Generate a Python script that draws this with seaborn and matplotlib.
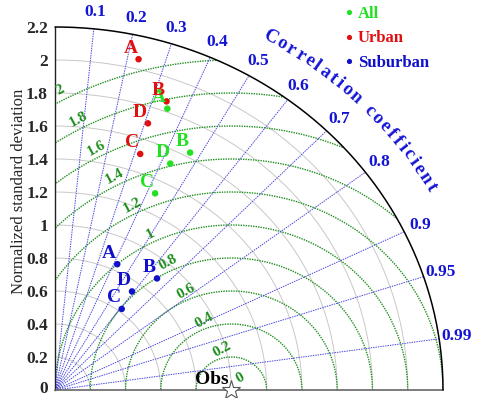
import numpy as np
import pandas as pd
import matplotlib
matplotlib.use("Agg")
import matplotlib.pyplot as plt
import matplotlib.transforms as mtransforms
from matplotlib.font_manager import FontProperties
from matplotlib.textpath import TextPath
import seaborn as sns

sns.set_style("white")
plt.rcParams['font.family'] = ['Liberation Serif', 'DejaVu Serif']

# Data (normalized std, correlation)
stations = ["A", "B", "C", "D"]
all_std = [1.82, 1.63, 1.32, 1.52]
all_corr = [0.35, 0.47, 0.43, 0.43]
urban_std = [2.06, 1.86, 1.51, 1.70]
urban_corr = [0.23, 0.34, 0.32, 0.31]
suburban_std = [0.84, 0.89, 0.62, 0.74]
suburban_corr = [0.42, 0.65, 0.61, 0.59]
obs_std = 1.0

std_ticks = [0, 0.2, 0.4, 0.6, 0.8, 1, 1.2, 1.4, 1.6, 1.8, 2, 2.2]
std_tick_labels = ["0", "0.2", "0.4", "0.6", "0.8", "1", "1.2", "1.4", "1.6", "1.8", "2", "2.2"]
corr_ticks = [0.1, 0.2, 0.3, 0.4, 0.5, 0.6, 0.7, 0.8, 0.9, 0.95, 0.99]
corr_tick_labels = ["0.1", "0.2", "0.3", "0.4", "0.5", "0.6", "0.7", "0.8", "0.9", "0.95", "0.99"]
rms_levels = [0.2, 0.4, 0.6, 0.8, 1.0, 1.2, 1.4, 1.6, 1.8, 2.0]
rms_labels = ["0", "0.2", "0.4", "0.6", "0.8", "1", "1.2", "1.4", "1.6", "1.8", "2"]
max_std = 2.2

colors = {"All": "#22e022", "Urban": "#e01010", "Suburban": "#1010cc"}
grid_blue = "#4a4ae0"
grid_green = "#1f8f1f"

frames = []
for name, s, c in [("All", all_std, all_corr), ("Urban", urban_std, urban_corr),
                   ("Suburban", suburban_std, suburban_corr)]:
    frames.append(pd.DataFrame({"group": name, "station": stations, "std": s, "corr": c}))
df = pd.concat(frames, ignore_index=True)
df["x"] = df["std"] * df["corr"]
df["y"] = df["std"] * np.sin(np.arccos(df["corr"]))

fig = plt.figure(figsize=(4.81, 3.98), dpi=100)
ax = fig.add_axes([55 / 481, 8 / 398, 388 / 481, 363 / 398])
ax.set_xlim(0, max_std)
ax.set_ylim(0, max_std)

t = np.linspace(0, np.pi / 2, 300)

# std arcs (gray)
for r in std_ticks[1:-1]:
    ax.plot(r * np.cos(t), r * np.sin(t), color="#c8c8c8", lw=0.7, zorder=1)

# RMS arcs around obs (green dotted)
phi = np.linspace(0, np.pi, 400)
for r in rms_levels:
    xs = obs_std + r * np.cos(phi)
    ys = r * np.sin(phi)
    mask = (xs ** 2 + ys ** 2 > max_std ** 2) | (xs < 0)
    xs = np.where(mask, np.nan, xs)
    ax.plot(xs, ys, color=grid_green, lw=1.0, ls=(0, (1, 0.8)), zorder=2)

# correlation rays (blue dotted)
for c in corr_ticks:
    a = np.arccos(c)
    ax.plot([0, max_std * np.cos(a)], [0, max_std * np.sin(a)],
            color=grid_blue, lw=0.7, ls=(0, (1.5, 1)), zorder=2)

# outer arc
ax.plot(max_std * np.cos(t), max_std * np.sin(t), color="black", lw=1.1, zorder=3, clip_on=False)

sns.scatterplot(data=df, x="x", y="y", hue="group", hue_order=["All", "Urban", "Suburban"],
                palette=colors, s=22, edgecolor="none", ax=ax, zorder=5, clip_on=False)

for _, row in df.iterrows():
    ax.annotate(row["station"], (row["x"], row["y"]), xytext=(-8, 11), textcoords="offset pixels",
                ha="center", va="center", fontsize=14, fontweight="bold", color=colors[row["group"]],
                zorder=6)

# obs star
ax.plot([obs_std], [0], marker="*", ms=14, mfc="white", mec="#555555", mew=0.8, clip_on=False, zorder=6)
ax.annotate("Obs", (obs_std, 0), xytext=(-20, 10), textcoords="offset pixels", ha="center",
            va="center", fontsize=14, fontweight="bold", color="black", zorder=6)

# correlation labels
for c, lab in zip(corr_ticks, corr_tick_labels):
    a = np.arccos(c)
    ax.text(2.3 * np.cos(a), 2.3 * np.sin(a), lab, ha="center", va="center", fontsize=12.5,
            fontweight="bold", color="#1414d4", clip_on=False)


def disp_angle(dx, dy):
    p0 = ax.transData.transform((0, 0))
    p1 = ax.transData.transform((dx, dy))
    return np.degrees(np.arctan2(p1[1] - p0[1], p1[0] - p0[0]))


# RMS labels
rot = disp_angle(0.866, 0.5)
for i, lab in enumerate(rms_labels):
    L = i * 0.2
    ax.text(obs_std + 0.05 - 0.51 * L, 0.075 + 0.87 * L, lab, ha="center", va="center",
            fontsize=11, fontweight="bold", color=grid_green, rotation=rot, clip_on=False, zorder=4)

# curved axis title
title = "Correlation coefficient"
fp = FontProperties(family="Liberation Serif", weight="bold", size=13.5)
widths = [TextPath((0, 0), ch, prop=fp).get_extents().width if ch != " " else 3.0 for ch in title]
gap = 2.2
centers = []
pos = 0.0
for w in widths:
    centers.append(pos + w / 2)
    pos += w + gap
centers = np.array(centers)
frac = (centers - centers[0]) / (centers[-1] - centers[0])
angles = np.radians(60.3 + frac * (30.0 - 60.3))
for ch, a in zip(title, angles):
    if ch == " ":
        continue
    r = 2.46
    ax.text(r * np.cos(a), r * np.sin(a), ch, ha="center", va="center", fontproperties=fp,
            color="#1414d4", rotation=disp_angle(np.sin(a), -np.cos(a)),
            rotation_mode="anchor", clip_on=False)

# axes styling
ax.set_xticks([])
ax.set_yticks(std_ticks)
ax.set_yticklabels(std_tick_labels, fontsize=12.5, fontweight="bold")
ax.tick_params(axis="y", length=0, pad=5)
zero_lab = ax.get_yticklabels()[0]
zero_lab.set_transform(zero_lab.get_transform() +
                       mtransforms.ScaledTranslation(0, 2 / 72, fig.dpi_scale_trans))
ax.set_xlabel("")
ax.set_ylabel("Normalized standard deviation", fontsize=12, family="Liberation Serif")
ax.yaxis.set_label_coords(-0.072, 0.548)
for side in ["top", "right"]:
    ax.spines[side].set_visible(False)
ax.spines["left"].set_color("#222222")
ax.spines["bottom"].set_color("#666666")
ax.spines["left"].set_linewidth(1.0)
ax.spines["bottom"].set_linewidth(1.2)

handles, labels = ax.get_legend_handles_labels()
leg = ax.legend(handles, labels, loc="upper left", bbox_to_anchor=(331 / 481, 1.01),
                bbox_transform=fig.transFigure, frameon=False, handletextpad=0.0,
                handlelength=1.0, labelspacing=0.5, borderpad=0.1, markerscale=0.8,
                prop={"weight": "bold", "size": 12})
for txt, lab in zip(leg.get_texts(), labels):
    txt.set_color(colors[lab])

fig.savefig("out.png", dpi=100)
